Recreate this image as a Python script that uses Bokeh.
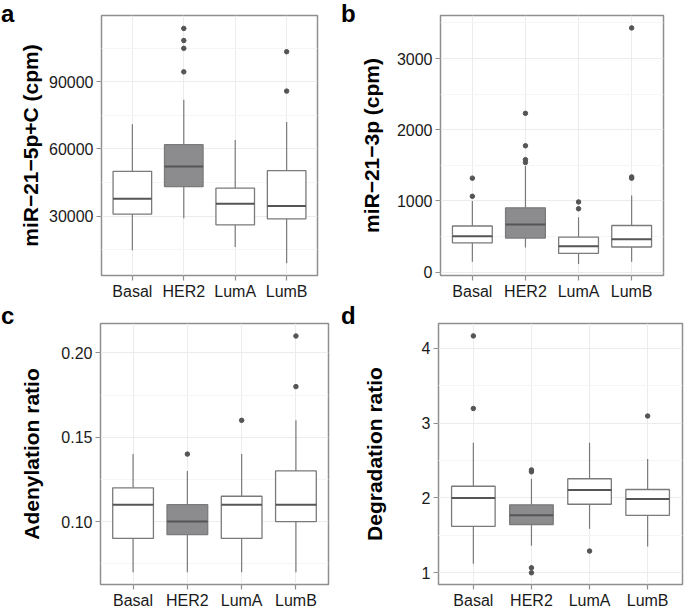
from bokeh.plotting import figure
from bokeh.layouts import column, row
from bokeh.models import Range1d, FactorRange, FixedTicker, NumeralTickFormatter, Div
from bokeh.embed import file_html
from bokeh.resources import INLINE

cats = ["Basal", "HER2", "LumA", "LumB"]

# panel a: miR-21-5p+C (cpm)
a_lower = [14800, 29000, 16200, 9000]
a_q1 = [30900, 43200, 26100, 28800]
a_med = [37700, 52200, 35500, 34500]
a_q3 = [50000, 61900, 42500, 50300]
a_upper = [71000, 81900, 64000, 72000]
a_out_cat = ["HER2", "HER2", "HER2", "HER2", "LumB", "LumB"]
a_out_val = [113800, 108400, 104900, 94400, 103400, 85800]
a_ticks = [30000, 60000, 90000]

# panel b: miR-21-3p (cpm)
b_lower = [146, 346, 114, 146]
b_q1 = [412, 478, 264, 353]
b_med = [503, 670, 364, 463]
b_q3 = [648, 904, 492, 655]
b_upper = [1000, 1490, 771, 1078]
b_out_cat = ["Basal", "Basal", "HER2", "HER2", "HER2", "HER2", "LumA", "LumA", "LumB", "LumB", "LumB"]
b_out_val = [1320, 1065, 2230, 1775, 1580, 1540, 986, 890, 3430, 1337, 1320]
b_ticks = [0, 1000, 2000, 3000]

# panel c: Adenylation ratio
c_lower = [0.07, 0.07, 0.07, 0.07]
c_q1 = [0.09, 0.0923, 0.09, 0.10]
c_med = [0.11, 0.10, 0.11, 0.11]
c_q3 = [0.12, 0.11, 0.115, 0.13]
c_upper = [0.14, 0.13, 0.14, 0.16]
c_out_cat = ["HER2", "LumA", "LumB", "LumB"]
c_out_val = [0.14, 0.16, 0.21, 0.18]
c_ticks = [0.10, 0.15, 0.20]

# panel d: Degradation ratio
d_lower = [1.12, 1.36, 1.59, 1.35]
d_q1 = [1.62, 1.645, 1.916, 1.768]
d_med = [2.0, 1.768, 2.105, 1.986]
d_q3 = [2.157, 1.908, 2.257, 2.113]
d_upper = [2.74, 2.257, 2.74, 2.52]
d_out_cat = ["Basal", "Basal", "HER2", "HER2", "HER2", "HER2", "LumA", "LumB"]
d_out_val = [4.167, 3.197, 2.375, 2.35, 1.066, 1.0, 1.29, 3.096]
d_ticks = [1, 2, 3, 4]

FONT = "Liberation Sans"
BOX_FILLS = ["white", "#8c8c8e", "white", "white"]
PAD = 0.1
LETTER_W = 16


def letter_strip(letter, height):
    html = ('<div style="font-family:\'Liberation Sans\',Arial,sans-serif;font-size:24px;'
            'font-weight:bold;line-height:27px;color:#000;margin:0;padding:0 0 0 1px;">'
            + letter + '</div>')
    return Div(text=html, width=LETTER_W, height=height, margin=0)


def panel(ylabel, lower, q1, med, q3, upper, out_cat, out_val,
          yr, ticks, fmt, width, height, ml, mr, mt, mb, lab_standoff):
    p = figure(x_range=FactorRange(factors=cats, range_padding=PAD, range_padding_units="absolute"),
               y_range=Range1d(*yr), width=width, height=height,
               output_backend="svg", toolbar_location=None,
               min_border_left=ml, min_border_right=mr, min_border_top=mt, min_border_bottom=mb)
    p.background_fill_color = "white"
    p.border_fill_color = "white"
    p.outline_line_color = "#8f8f8f"
    p.outline_line_width = 1.5

    step = ticks[1] - ticks[0]
    minor = [t - step / 2 for t in ticks] + [ticks[-1] + step / 2]
    p.yaxis.ticker = FixedTicker(ticks=ticks, minor_ticks=minor)
    p.yaxis.formatter = NumeralTickFormatter(format=fmt)

    p.xgrid.grid_line_color = "#ececec"
    p.ygrid.grid_line_color = "#ececec"
    p.ygrid.minor_grid_line_color = "#f5f5f5"

    p.axis.axis_line_color = None
    p.axis.major_tick_line_color = "#8f8f8f"
    p.axis.major_tick_line_width = 1.2
    p.axis.major_tick_out = 5
    p.axis.major_tick_in = 0
    p.axis.minor_tick_line_color = None
    p.axis.major_label_text_font = FONT
    p.axis.major_label_text_font_size = "16px"
    p.axis.major_label_text_color = "#1a1a1a"
    p.yaxis.major_label_standoff = 3
    p.xaxis.major_label_standoff = 2

    p.yaxis.axis_label = ylabel
    p.yaxis.axis_label_text_font = FONT
    p.yaxis.axis_label_text_font_size = "21px"
    p.yaxis.axis_label_text_font_style = "bold"
    p.yaxis.axis_label_text_color = "black"
    p.yaxis.axis_label_standoff = lab_standoff

    p.segment(x0=cats, y0=q3, x1=cats, y1=upper, line_color="#7a7a7a", line_width=1.2)
    p.segment(x0=cats, y0=lower, x1=cats, y1=q1, line_color="#7a7a7a", line_width=1.2)
    p.vbar(x=cats, top=q3, bottom=q1, width=0.75, fill_color=BOX_FILLS,
           line_color="#7a7a7a", line_width=1.3)
    p.vbar(x=cats, top=med, bottom=med, width=0.75, fill_alpha=0,
           line_color="#555555", line_width=2)
    p.scatter(x=out_cat, y=out_val, size=4.5, fill_color="#555555", line_color="#555555")
    return p


H1, H2 = 302, 309

pa = panel("miR\u221221\u22125p+C (cpm)", a_lower, a_q1, a_med, a_q3, a_upper, a_out_cat, a_out_val,
           (3478, 119565), a_ticks, "0", 340 - LETTER_W, H1, 100 - LETTER_W, 23, 15, 26, 4)
pb = panel("miR\u221221\u22123p (cpm)", b_lower, b_q1, b_med, b_q3, b_upper, b_out_cat, b_out_val,
           (-47, 3604), b_ticks, "0", 345 - LETTER_W, H1, 99 - LETTER_W, 22, 15, 26, 11)
pc = panel("Adenylation ratio", c_lower, c_q1, c_med, c_q3, c_upper, c_out_cat, c_out_val,
           (0.0627, 0.2174), c_ticks, "0.00", 340 - LETTER_W, H2, 100 - LETTER_W, 12, 21, 25, 15)
pd_ = panel("Degradation ratio", d_lower, d_q1, d_med, d_q3, d_upper, d_out_cat, d_out_val,
            (0.843, 4.333), d_ticks, "0", 345 - LETTER_W, H2, 98 - LETTER_W, 3, 21, 25, 33)

layout = column(
    row(letter_strip("a", H1), pa, letter_strip("b", H1), pb),
    row(letter_strip("c", H2), pc, letter_strip("d", H2), pd_),
)
open("out.html", "w").write(file_html(layout, INLINE))
